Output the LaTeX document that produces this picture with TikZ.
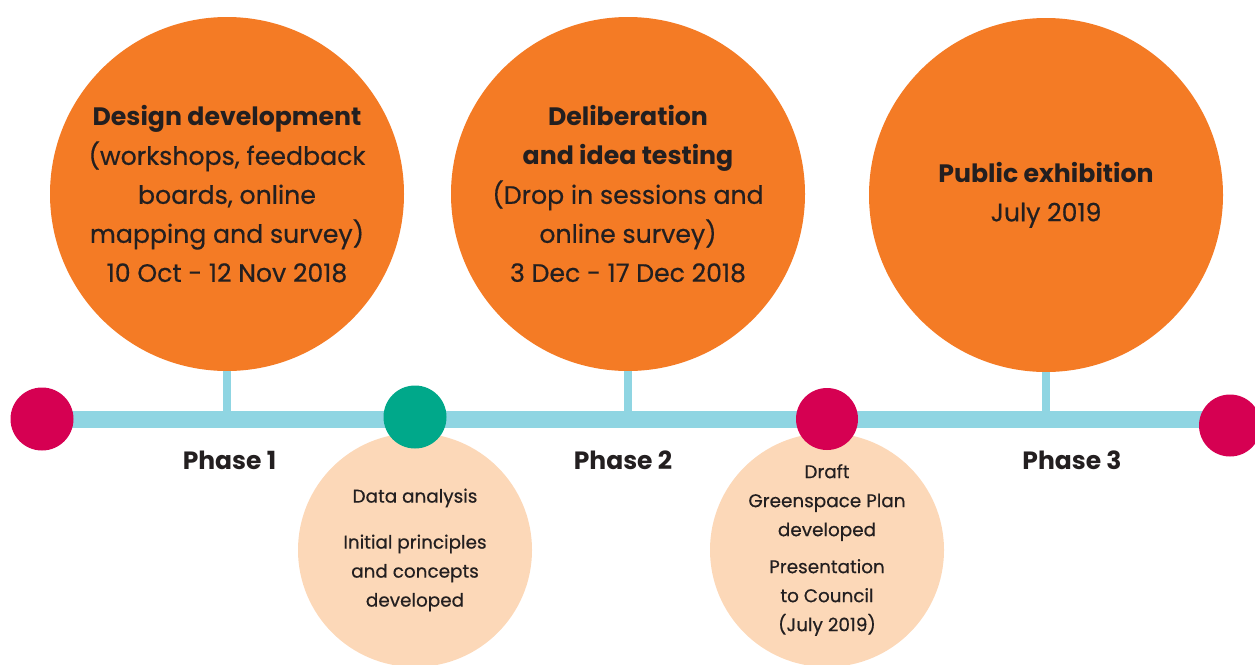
\documentclass[tikz,border=0pt]{standalone}
\usepackage{fontspec}
\setmainfont{Poppins}[UprightFeatures={FakeBold=0.5}]
\usetikzlibrary{positioning}

\definecolor{eventorange}{RGB}{244,123,37}
\definecolor{barblue}{RGB}{143,213,226}
\definecolor{dotred}{RGB}{214,0,82}
\definecolor{dotgreen}{RGB}{0,168,138}
\definecolor{peach}{RGB}{252,216,184}
\definecolor{inkgrey}{RGB}{35,31,32}

\tikzset{
  eventcircle/.style={circle, fill=eventorange, minimum size=354pt, inner sep=0pt, align=center, text=inkgrey, font=\fontsize{25.2}{39}\selectfont},
  milestone/.style={circle, fill=peach, minimum size=234pt, inner sep=0pt, align=center, text=inkgrey, font=\fontsize{18.4}{29}\selectfont},
  markdot/.style={circle, minimum size=63pt, inner sep=0pt},
  phaselabel/.style={inner sep=0.75pt, text=inkgrey, font=\fontsize{25}{30}\selectfont\bfseries},
  barline/.style={draw=barblue, line width=17pt},
  stemline/.style={draw=barblue, line width=7.5pt}
}

\begin{document}
\begin{tikzpicture}[x=1pt,y=1pt,yscale=-1,xscale=1]
\useasboundingbox (0,0) rectangle (1255,664);

%Shape: Circle (events)
\node (design) at (227,194) [eventcircle] {\textbf{Design development}\\(workshops, feedback\\boards, online\\mapping and survey)\\10 Oct - 12 Nov 2018};
\node (deliberation) at (628,194) [eventcircle] {\textbf{Deliberation}\\\textbf{and idea testing}\\(Drop in sessions and\\online survey)\\3 Dec - 17 Dec 2018};
\node (exhibition) at (1046,195) [eventcircle] {\textbf{Public exhibition}\\July 2019};

%Shape: Circle (milestones)
\node (analysis) at (415,550) [milestone] {Data analysis\\[17pt]Initial principles\\and concepts\\developed};
\node (draftplan) at (827,550) [milestone] {Draft\\Greenspace Plan\\developed\\[8pt]Presentation\\to Council\\(July 2019)};

%Straight Lines (timeline)
\coordinate (barstart) at (42,419.5);
\coordinate (barend) at (1230,419.5);
\draw [barline] (barstart) -- (barend);

%Straight Lines (stems)
\draw [stemline] (design.south) -- (design.south |- barstart);
\draw [stemline] (deliberation.south) -- (deliberation.south |- barstart);
\draw [stemline] (exhibition.south) -- (exhibition.south |- barstart);

%Shape: Circle (dots)
\node (start) at (42,419) [markdot, fill=dotred] {};
\node (review) at (415,417) [markdot, fill=dotgreen] {};
\node (draft) at (827,419) [markdot, fill=dotred, minimum size=62pt] {};
\node (finish) at (1230,425.5) [markdot, fill=dotred, minimum size=62pt] {};

% Text Node
\node (phaseone) at (229.5,460) [phaselabel] {Phase 1};
% Text Node
\node (phasetwo) at (623,460) [phaselabel] {Phase 2};
% Text Node
\node (phasethree) at (1072,460) [phaselabel] {Phase 3};

\end{tikzpicture}
\end{document}
